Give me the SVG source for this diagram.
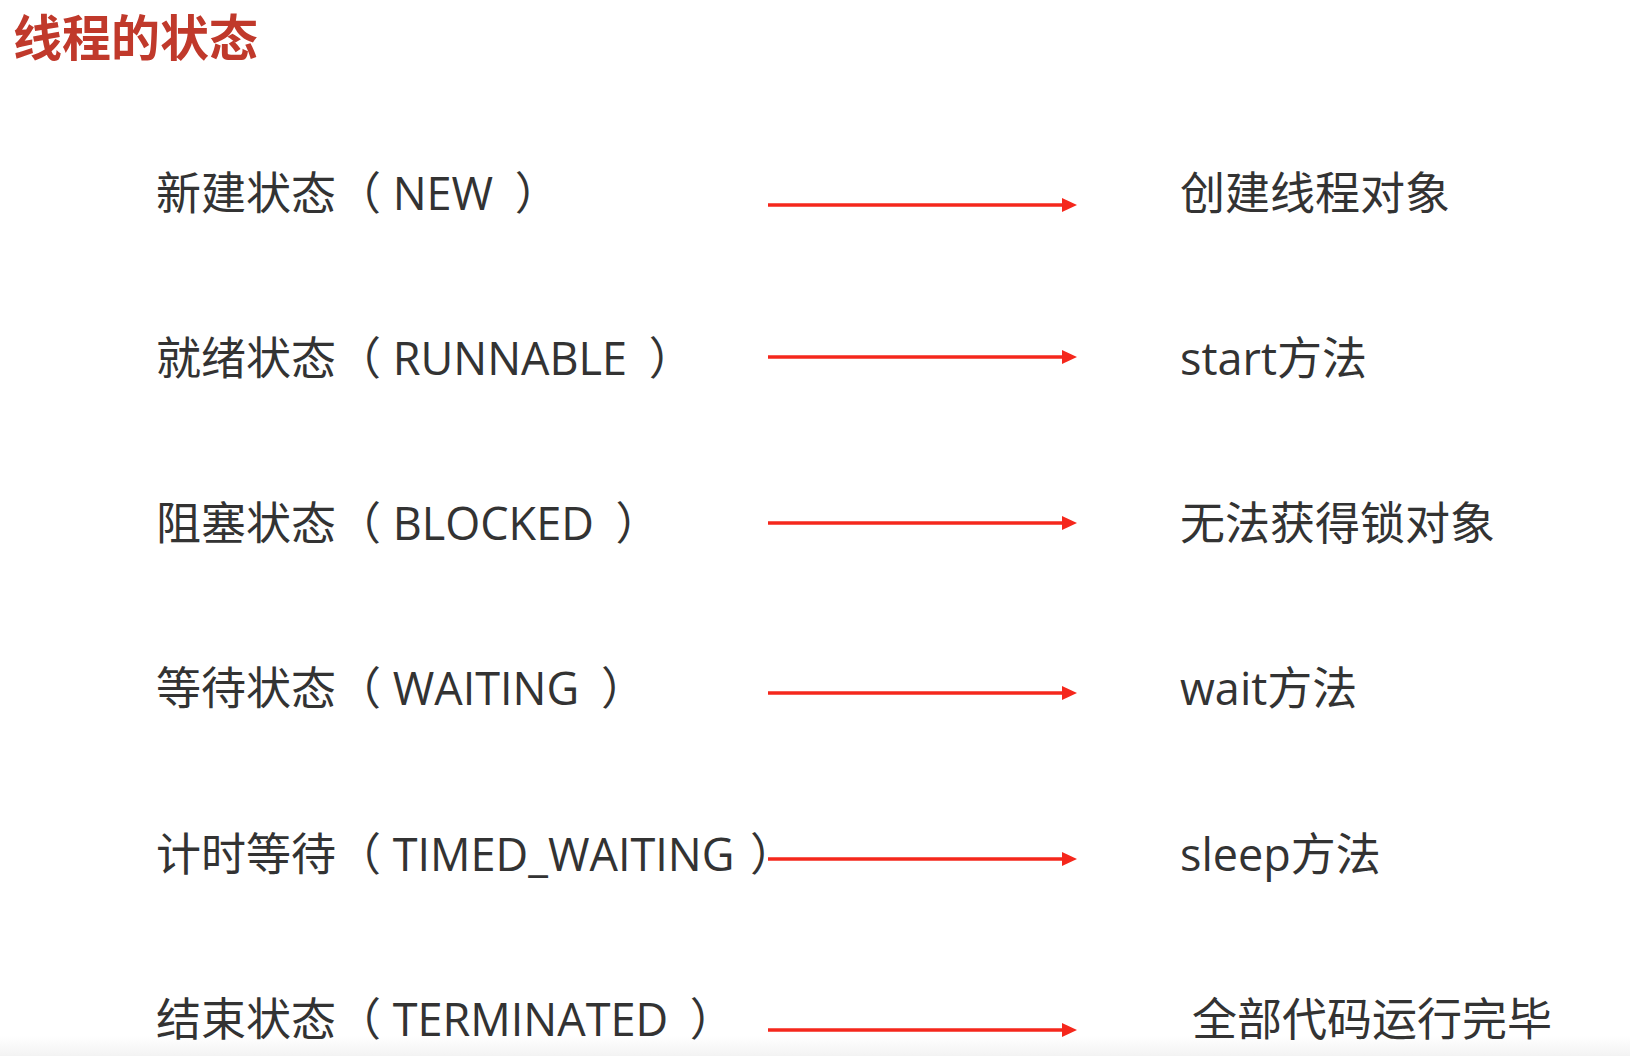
<svg xmlns="http://www.w3.org/2000/svg" width="1630" height="1056" viewBox="0 0 1630 1056">
  <style>
    .title { font-family: "Noto Sans CJK SC", sans-serif; font-size: 49px; font-weight: bold; fill: #c0392b; }
    .lbl { font-family: "Open Sans", "Noto Sans CJK SC", sans-serif; font-size: 45px; fill: #333333; }
    .conn { stroke: #f5271c; stroke-width: 3.5; fill: none; marker-end: url(#arrow); }
  </style>
  <defs>
    <marker id="arrow" markerUnits="userSpaceOnUse" markerWidth="16" markerHeight="14" refX="2" refY="7" orient="auto">
      <path d="M0,0 L15,7 L0,14 z" fill="#f5271c"/>
    </marker>
    <linearGradient id="band" x1="0" y1="0" x2="0" y2="1">
      <stop offset="0" stop-color="#ffffff"/>
      <stop offset="1" stop-color="#f3f3f3"/>
    </linearGradient>
  </defs>
  <rect x="0" y="0" width="1630" height="1056" fill="#ffffff"/>
  <rect x="0" y="1036" width="1630" height="20" fill="url(#band)"/>

  <text class="title" x="13" y="56">线程的状态</text>

  <g id="state-new"><text class="lbl" x="156" y="210">新建状态（ NEW <tspan dx="10">）</tspan></text></g>
  <g id="state-runnable"><text class="lbl" x="156" y="375">就绪状态（ RUNNABLE <tspan dx="10">）</tspan></text></g>
  <g id="state-blocked"><text class="lbl" x="156" y="540">阻塞状态（ BLOCKED <tspan dx="10">）</tspan></text></g>
  <g id="state-waiting"><text class="lbl" x="156" y="705">等待状态（ WAITING <tspan dx="10">）</tspan></text></g>
  <g id="state-timed"><text class="lbl" x="156" y="871">计时等待（ TIMED_WAITING <tspan dx="4">）</tspan></text></g>
  <g id="state-terminated"><text class="lbl" x="156" y="1036">结束状态（ TERMINATED <tspan dx="10">）</tspan></text></g>

  <g id="desc-new"><text class="lbl" x="1180" y="210">创建线程对象</text></g>
  <g id="desc-runnable"><text class="lbl" x="1180" y="375">start方法</text></g>
  <g id="desc-blocked"><text class="lbl" x="1180" y="540">无法获得锁对象</text></g>
  <g id="desc-waiting"><text class="lbl" x="1180" y="705">wait方法</text></g>
  <g id="desc-timed"><text class="lbl" x="1180" y="871">sleep方法</text></g>
  <g id="desc-terminated"><text class="lbl" x="1192" y="1036">全部代码运行完毕</text></g>

  <g id="connectors">
    <line class="conn" x1="768" y1="205" x2="1064" y2="205"/>
    <line class="conn" x1="768" y1="357" x2="1064" y2="357"/>
    <line class="conn" x1="768" y1="523" x2="1064" y2="523"/>
    <line class="conn" x1="768" y1="693" x2="1064" y2="693"/>
    <line class="conn" x1="768" y1="859" x2="1064" y2="859"/>
    <line class="conn" x1="768" y1="1030" x2="1064" y2="1030"/>
  </g>
</svg>
